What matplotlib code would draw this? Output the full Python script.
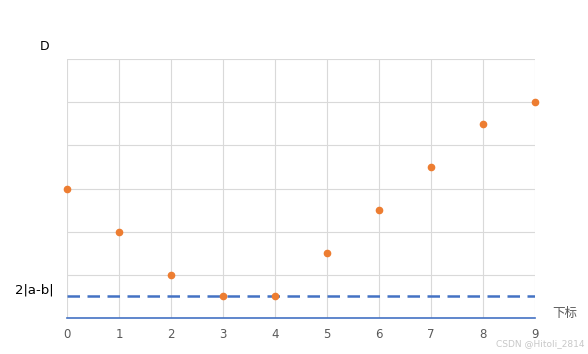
import matplotlib
matplotlib.use("Agg")
from matplotlib import pyplot as plt

plt.rcParams['font.family'] = ['DejaVu Sans', 'Noto Sans CJK SC']

# data
idx = [0, 1, 2, 3, 4, 5, 6, 7, 8, 9]
d_vals = [3, 2, 1, 0.5, 0.5, 1.5, 2.5, 3.5, 4.5, 5]
threshold = 0.5  # 2|a-b|
x_ticks = [0, 1, 2, 3, 4, 5, 6, 7, 8, 9]

blue = '#4472C4'
orange = '#ED7D31'
grey = '#595959'

f = plt.figure(figsize=(5.88, 3.54), dpi=100)
ax = f.add_axes([67/588., 36/354., 468/588., 259/354.])

ax.set_xlim(0, 9)
ax.set_ylim(0, 6)
ax.set_xticks(x_ticks)
ax.set_yticks(range(0, 7))
ax.set_yticklabels([])
ax.grid(True, color='#d9d9d9', lw=0.8)
ax.set_axisbelow(True)
for spine in ax.spines:
    ax.spines[spine].set_visible(False)
ax.tick_params(length=0, labelsize=8.5, colors=grey, pad=7)

ax.axhline(0, color=blue, lw=1.2, clip_on=False, zorder=2)
ax.axhline(threshold, color=blue, lw=1.8, ls=(0, (5, 3)), zorder=2)
ax.plot(idx, d_vals, 'o', color=orange, ms=4.5, clip_on=False, zorder=3)

f.text(45/588., 1 - 46/354., 'D', fontsize=9, ha='center', va='center')
f.text(34/588., 1 - 290/354., '2|a-b|', fontsize=9.5, ha='center', va='center')
f.text(565/588., 1 - 313/354., '下标', fontsize=9, color=grey, ha='center', va='center',
       family=['Noto Sans CJK SC', 'DejaVu Sans'])
f.text(584/588., 1 - 344/354., 'CSDN @Hitoli_2814', fontsize=6.5, color='#c8c8c8',
       ha='right', va='center')

f.savefig('out.png', dpi=100)
